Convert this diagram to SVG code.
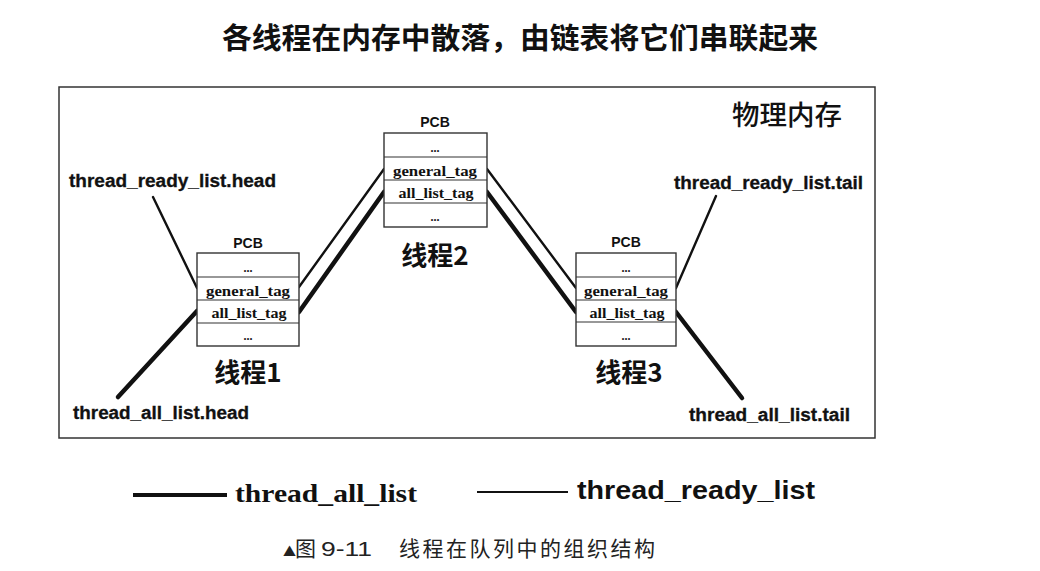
<svg xmlns="http://www.w3.org/2000/svg" width="1040" height="571" viewBox="0 0 1040 571">
<style>
.frame{fill:none;stroke:#333;stroke-width:1.5}
.box{fill:#fff;stroke:#333;stroke-width:1.4}
.sep{stroke:#333;stroke-width:1.2}
.pcb{font-family:"Liberation Sans",Arial,sans-serif;font-weight:bold;font-size:14px;fill:#111;text-anchor:middle}
.cell{font-family:"Liberation Serif","Times New Roman",serif;font-weight:bold;font-size:15px;fill:#111;text-anchor:middle}
.dots{font-family:"Liberation Serif",serif;font-weight:bold;font-size:12px;fill:#111;text-anchor:middle}
.name{font-family:"Noto Sans CJK SC",sans-serif;font-weight:bold;font-size:26px;fill:#111;text-anchor:middle}
.lbl{font-family:"Liberation Sans",Arial,sans-serif;font-weight:bold;font-size:18px;fill:#111;stroke:#111;stroke-width:0.3}
.thin{stroke:#111;stroke-width:2.4;fill:none;stroke-linecap:round}
.thick{stroke:#111;stroke-width:4.5;fill:none;stroke-linecap:round}
</style>
<rect width="1040" height="571" fill="#fff"/>
<text x="222" y="49" textLength="596" lengthAdjust="spacingAndGlyphs" style="font-family:'Noto Sans CJK SC',sans-serif;font-weight:bold;font-size:29px;fill:#111">各线程在内存中散落，由链表将它们串联起来</text>
<rect class="frame" x="59" y="87" width="816" height="351"/>
<text x="732" y="125" textLength="110" lengthAdjust="spacingAndGlyphs" style="font-family:'Noto Sans CJK SC',sans-serif;font-weight:500;font-size:27px;fill:#111">物理内存</text>

<g id="connectors">
  <line class="thin" x1="153" y1="197" x2="197" y2="288"/>
  <line class="thick" x1="118" y1="397" x2="197" y2="311"/>
  <line class="thin" x1="299" y1="287" x2="384" y2="169"/>
  <line class="thick" x1="299" y1="312" x2="384" y2="192"/>
  <line class="thin" x1="487" y1="169" x2="576" y2="288"/>
  <line class="thick" x1="487" y1="192" x2="576" y2="312"/>
  <line class="thin" x1="716" y1="196" x2="676" y2="288"/>
  <line class="thick" x1="676" y1="312" x2="742" y2="398"/>
</g>

<g id="thread1">
  <text class="pcb" x="248" y="248">PCB</text>
  <rect class="box" x="197" y="253" width="102" height="93"/>
  <line class="sep" x1="197" y1="277" x2="299" y2="277"/>
  <line class="sep" x1="197" y1="300" x2="299" y2="300"/>
  <line class="sep" x1="197" y1="323" x2="299" y2="323"/>
  <text class="dots" x="248" y="272">...</text>
  <text class="cell" x="248" y="296" textLength="84" lengthAdjust="spacingAndGlyphs">general_tag</text>
  <text class="cell" x="249" y="318" textLength="75" lengthAdjust="spacingAndGlyphs">all_list_tag</text>
  <text class="dots" x="248" y="340">...</text>
  <text class="name" x="248" y="382">线程1</text>
</g>

<g id="thread2">
  <text class="pcb" x="435" y="127">PCB</text>
  <rect class="box" x="384" y="133" width="103" height="94"/>
  <line class="sep" x1="384" y1="157" x2="487" y2="157"/>
  <line class="sep" x1="384" y1="180" x2="487" y2="180"/>
  <line class="sep" x1="384" y1="203" x2="487" y2="203"/>
  <text class="dots" x="435" y="152">...</text>
  <text class="cell" x="435" y="176" textLength="84" lengthAdjust="spacingAndGlyphs">general_tag</text>
  <text class="cell" x="436" y="198" textLength="75" lengthAdjust="spacingAndGlyphs">all_list_tag</text>
  <text class="dots" x="435" y="221">...</text>
  <text class="name" x="435" y="265">线程2</text>
</g>

<g id="thread3">
  <text class="pcb" x="626" y="247">PCB</text>
  <rect class="box" x="576" y="253" width="100" height="93"/>
  <line class="sep" x1="576" y1="277" x2="676" y2="277"/>
  <line class="sep" x1="576" y1="300" x2="676" y2="300"/>
  <line class="sep" x1="576" y1="322" x2="676" y2="322"/>
  <text class="dots" x="626" y="272">...</text>
  <text class="cell" x="626" y="296" textLength="84" lengthAdjust="spacingAndGlyphs">general_tag</text>
  <text class="cell" x="627" y="318" textLength="75" lengthAdjust="spacingAndGlyphs">all_list_tag</text>
  <text class="dots" x="626" y="340">...</text>
  <text class="name" x="629" y="382">线程3</text>
</g>

<g id="labels">
  <text class="lbl" x="69" y="187" textLength="207" lengthAdjust="spacingAndGlyphs">thread_ready_list.head</text>
  <text class="lbl" x="73" y="419" textLength="176" lengthAdjust="spacingAndGlyphs">thread_all_list.head</text>
  <text class="lbl" x="674" y="189" textLength="189" lengthAdjust="spacingAndGlyphs">thread_ready_list.tail</text>
  <text class="lbl" x="689" y="421" textLength="161" lengthAdjust="spacingAndGlyphs">thread_all_list.tail</text>
</g>

<g id="legend">
  <line x1="133" y1="495" x2="227" y2="495" stroke="#111" stroke-width="4"/>
  <text x="235" y="502" textLength="182" lengthAdjust="spacingAndGlyphs" style="font-family:'Liberation Serif',serif;font-weight:bold;font-size:26px;fill:#111">thread_all_list</text>
  <line x1="477" y1="492" x2="568" y2="492" stroke="#111" stroke-width="2.2"/>
  <text x="577" y="499" textLength="238" lengthAdjust="spacingAndGlyphs" style="font-family:'Liberation Sans',Arial,sans-serif;font-weight:bold;font-size:26px;fill:#111">thread_ready_list</text>
</g>

<g id="caption" style="font-family:'Noto Sans CJK SC',sans-serif;font-size:21px;fill:#222">
  <text x="283" y="556" font-size="13">▲</text>
  <text x="295" y="556">图</text>
  <text x="321" y="556" textLength="51" lengthAdjust="spacingAndGlyphs" style="font-family:'Liberation Sans',sans-serif;font-size:21px">9-11</text>
  <text x="399" y="556" textLength="256" lengthAdjust="spacing">线程在队列中的组织结构</text>
</g>
</svg>
